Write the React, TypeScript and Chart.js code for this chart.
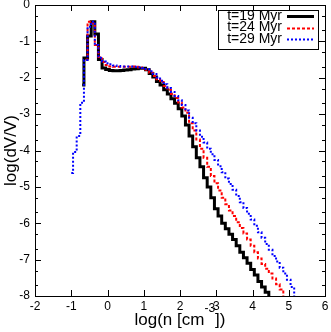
import React, { useEffect, useRef } from "react";
import { Chart, registerables } from "chart.js";
Chart.register(...registerables);

const seriesLabels = ["t=19 Myr", "t=24 Myr", "t=29 Myr"];
const seriesColors = ["#000000", "#ff0000", "#0000ff"];

// log(n) bin centres and log(dV/V) values
const logN19 = [-0.7, -0.6, -0.5, -0.4, -0.3, -0.2, -0.1, 0.0, 0.1, 0.2, 0.3, 0.4, 0.5, 0.6, 0.7, 0.8, 0.9, 1.0, 1.1, 1.2, 1.3, 1.4, 1.5, 1.6, 1.7, 1.8, 1.9, 2.0, 2.1, 2.2, 2.3, 2.4, 2.5, 2.6, 2.7, 2.8, 2.9, 3.0, 3.1, 3.2, 3.3, 3.4, 3.5, 3.6, 3.7, 3.8, 3.9, 4.0, 4.1, 4.2, 4.3, 4.4, 4.5];
const logV19 = [-2.2, -1.46, -0.85, -0.46, -0.8, -1.5, -1.73, -1.77, -1.8, -1.81, -1.81, -1.8, -1.79, -1.78, -1.76, -1.75, -1.74, -1.74, -1.78, -1.88, -1.98, -2.1, -2.2, -2.33, -2.45, -2.58, -2.7, -2.85, -3.05, -3.3, -3.6, -3.9, -4.2, -4.45, -4.75, -5.0, -5.3, -5.6, -5.8, -6.0, -6.15, -6.3, -6.45, -6.62, -6.8, -6.95, -7.1, -7.27, -7.42, -7.6, -7.75, -7.9, -8.05];

const logN24 = [-0.6, -0.5, -0.4, -0.3, -0.2, -0.1, 0.0, 0.1, 0.2, 0.3, 0.4, 0.5, 0.6, 0.7, 0.8, 0.9, 1.0, 1.1, 1.2, 1.3, 1.4, 1.5, 1.6, 1.7, 1.8, 1.9, 2.0, 2.1, 2.2, 2.3, 2.4, 2.5, 2.6, 2.7, 2.8, 2.9, 3.0, 3.1, 3.2, 3.3, 3.4, 3.5, 3.6, 3.7, 3.8, 3.9, 4.0, 4.1, 4.2, 4.3, 4.4, 4.5, 4.6, 4.7, 4.8, 4.9];
const logV24 = [-1.5, -0.46, -0.5, -1.1, -1.43, -1.57, -1.65, -1.69, -1.7, -1.7, -1.7, -1.7, -1.7, -1.69, -1.7, -1.72, -1.74, -1.78, -1.86, -1.95, -2.04, -2.12, -2.23, -2.33, -2.45, -2.56, -2.68, -2.82, -2.96, -3.25, -3.45, -3.7, -3.95, -4.2, -4.45, -4.7, -4.9, -5.1, -5.3, -5.48, -5.65, -5.8, -5.97, -6.13, -6.28, -6.45, -6.62, -6.8, -6.97, -7.12, -7.25, -7.38, -7.52, -7.68, -7.82, -8.05];

const logN29 = [-1.0, -0.9, -0.8, -0.7, -0.6, -0.5, -0.4, -0.3, -0.2, -0.1, 0.0, 0.1, 0.2, 0.3, 0.4, 0.5, 0.6, 0.7, 0.8, 0.9, 1.0, 1.1, 1.2, 1.3, 1.4, 1.5, 1.6, 1.7, 1.8, 1.9, 2.0, 2.1, 2.2, 2.3, 2.4, 2.5, 2.6, 2.7, 2.8, 2.9, 3.0, 3.1, 3.2, 3.3, 3.4, 3.5, 3.6, 3.7, 3.8, 3.9, 4.0, 4.1, 4.2, 4.3, 4.4, 4.5, 4.6, 4.7, 4.8, 4.9, 5.0, 5.1, 5.2];
const logV29 = [-4.62, -4.04, -3.6, -2.69, -1.51, -0.6, -0.46, -1.1, -1.45, -1.55, -1.6, -1.63, -1.66, -1.68, -1.69, -1.69, -1.69, -1.69, -1.7, -1.71, -1.73, -1.76, -1.82, -1.9, -1.99, -2.08, -2.18, -2.28, -2.39, -2.5, -2.62, -2.75, -2.9, -3.1, -3.25, -3.45, -3.62, -3.78, -3.95, -4.1, -4.26, -4.43, -4.6, -4.77, -4.92, -5.08, -5.25, -5.42, -5.58, -5.74, -5.9, -6.07, -6.25, -6.4, -6.57, -6.73, -6.9, -7.05, -7.22, -7.38, -7.55, -7.75, -8.05];

const xMin = -2, xMax = 6, yMin = -8, yMax = 0;
const FONT = "'Liberation Sans', Arial, sans-serif";

const toPoints = (xs: number[], ys: number[]) => xs.map((x, i) => ({ x, y: ys[i] }));

const decorPlugin = {
  id: "decor",
  afterDatasetsDraw(chart: any) {
    const { ctx, chartArea: a, scales } = chart;
    const xs = scales.x, ys = scales.y;
    ctx.save();
    ctx.strokeStyle = "#000";
    ctx.lineWidth = 1;
    ctx.setLineDash([]);
    ctx.strokeRect(a.left + 0.5, a.top + 0.5, a.right - a.left, a.bottom - a.top);
    ctx.beginPath();
    const major = 6, minor = 3;
    xs.ticks.forEach((t: any) => {
      const p = Math.round(xs.getPixelForValue(t.value)) + 0.5;
      ctx.moveTo(p, a.bottom); ctx.lineTo(p, a.bottom - major);
      ctx.moveTo(p, a.top); ctx.lineTo(p, a.top + major);
    });
    ys.ticks.forEach((t: any) => {
      const p = Math.round(ys.getPixelForValue(t.value)) + 0.5;
      ctx.moveTo(a.left, p); ctx.lineTo(a.left + major, p);
      ctx.moveTo(a.right, p); ctx.lineTo(a.right - major, p);
      if (t.value < yMax) {
        [Math.log10(2), Math.log10(5)].forEach((off) => {
          const q = Math.round(ys.getPixelForValue(t.value + off)) + 0.5;
          ctx.moveTo(a.left, q); ctx.lineTo(a.left + minor, q);
          ctx.moveTo(a.right, q); ctx.lineTo(a.right - minor, q);
        });
      }
    });
    ctx.stroke();

    // legend
    const bx = 218, by = 10, bw = 100, bh = 39;
    ctx.fillStyle = "#fff";
    ctx.fillRect(bx, by, bw, bh);
    ctx.strokeRect(bx + 0.5, by + 0.5, bw, bh);
    ctx.font = `14px ${FONT}`;
    ctx.textAlign = "right";
    ctx.textBaseline = "middle";
    chart.data.datasets.forEach((ds: any, i: number) => {
      const ry = by + 6 + i * 11.5;
      ctx.fillStyle = "#000";
      ctx.fillText(ds.label, bx + 64, ry);
      ctx.beginPath();
      ctx.strokeStyle = ds.borderColor;
      ctx.lineWidth = ds.borderWidth;
      ctx.setLineDash(ds.borderDash || []);
      ctx.moveTo(bx + 69, Math.round(ry) + 0.5);
      ctx.lineTo(bx + 96, Math.round(ry) + 0.5);
      ctx.stroke();
    });
    ctx.setLineDash([]);

    // axis titles
    ctx.fillStyle = "#000";
    ctx.textBaseline = "alphabetic";
    ctx.textAlign = "left";
    const big = `17px ${FONT}`, small = `12px ${FONT}`;
    const s1 = "log(n [cm", s2 = "-3", s3 = "])";
    ctx.font = big; const w1 = ctx.measureText(s1).width; const w3 = ctx.measureText(s3).width;
    ctx.font = small; const w2 = ctx.measureText(s2).width;
    const cx = (a.left + a.right) / 2;
    let sx = cx - (w1 + w2 + w3) / 2;
    const base = 325;
    ctx.font = big; ctx.fillText(s1, sx, base); sx += w1;
    ctx.font = small; ctx.fillText(s2, sx, base - 13); sx += w2;
    ctx.font = big; ctx.fillText(s3, sx, base);

    ctx.save();
    ctx.translate(11, (a.top + a.bottom) / 2);
    ctx.rotate(-Math.PI / 2);
    ctx.textAlign = "center";
    ctx.textBaseline = "middle";
    ctx.font = big;
    ctx.fillText("log(dV/V)", 0, 0);
    ctx.restore();
    ctx.restore();
  },
};

export default function App() {
  const ref = useRef<HTMLCanvasElement>(null);
  useEffect(() => {
    if (!ref.current) return;
    const chart = new Chart(ref.current, {
      type: "line",
      data: {
        datasets: [
          { label: seriesLabels[0], data: toPoints(logN19, logV19), borderColor: seriesColors[0], borderWidth: 3, stepped: "middle", pointRadius: 0, order: 2, borderDash: [] },
          { label: seriesLabels[1], data: toPoints(logN24, logV24), borderColor: seriesColors[1], borderWidth: 2, stepped: "middle", pointRadius: 0, order: 1, borderDash: [3, 2] },
          { label: seriesLabels[2], data: toPoints(logN29, logV29), borderColor: seriesColors[2], borderWidth: 2, stepped: "middle", pointRadius: 0, order: 0, borderDash: [2, 2] },
        ] as any,
      },
      options: {
        responsive: false,
        animation: false,
        layout: { padding: { left: 0, right: 6, top: 5, bottom: 0 } },
        plugins: { legend: { display: false }, tooltip: { enabled: false } },
        scales: {
          x: {
            type: "linear", min: xMin, max: xMax,
            grid: { display: false, drawTicks: false }, border: { display: false },
            ticks: { stepSize: 1, padding: 3, color: "#000", font: { family: FONT, size: 12 }, maxRotation: 0 },
            afterFit: (s: any) => { s.height = 36; s.paddingLeft = 0; s.paddingRight = 0; },
          },
          y: {
            type: "linear", min: yMin, max: yMax,
            grid: { display: false, drawTicks: false }, border: { display: false },
            ticks: { stepSize: 1, padding: 5, color: "#000", font: { family: FONT, size: 12 } },
            afterFit: (s: any) => { s.width = 35; s.paddingTop = 0; s.paddingBottom = 0; },
          },
        },
      } as any,
      plugins: [decorPlugin],
    });
    return () => chart.destroy();
  }, []);
  return (
    <div style={{ position: "fixed", left: 0, top: 0, width: 331, height: 332, background: "#fff" }}>
      <canvas ref={ref} width={331} height={332} style={{ display: "block" }} />
    </div>
  );
}
